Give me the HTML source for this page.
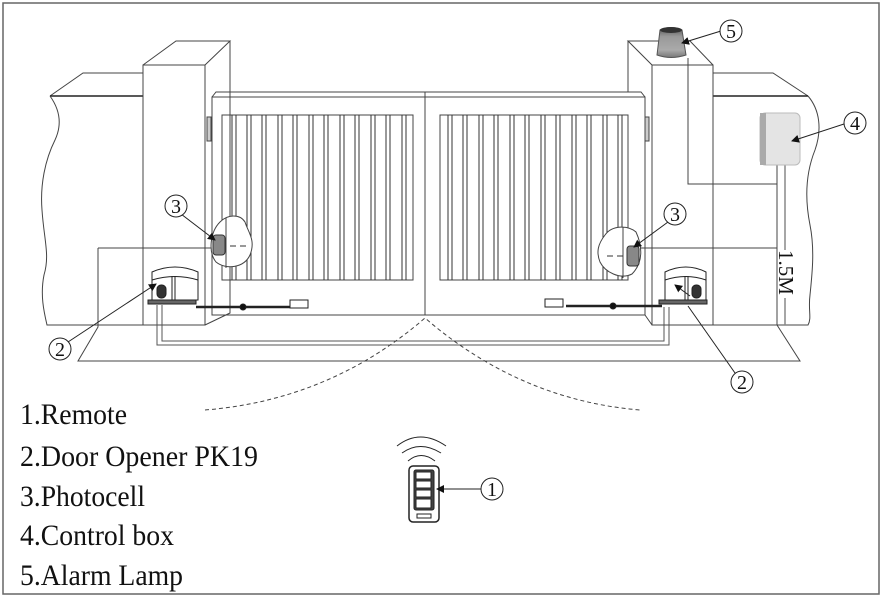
<!DOCTYPE html>
<html><head><meta charset="utf-8"><style>
html,body{margin:0;padding:0;background:#fff;width:883px;height:598px;overflow:hidden}
svg{display:block}
text{font-family:"Liberation Serif",serif;fill:#111}
</style></head><body>
<svg width="883" height="598" viewBox="0 0 883 598" xmlns="http://www.w3.org/2000/svg">
<defs>
<marker id="ar" markerWidth="8" markerHeight="8" refX="7" refY="4" orient="auto" markerUnits="userSpaceOnUse"><path d="M0,0 L8,4 L0,8 z" fill="#111"/></marker>
<linearGradient id="lg" x1="0" x2="0" y1="0" y2="1"><stop offset="0" stop-color="#555"/><stop offset="0.3" stop-color="#999"/><stop offset="0.75" stop-color="#aaa"/><stop offset="1" stop-color="#777"/></linearGradient>
</defs>
<rect x="3" y="3" width="876" height="591" fill="none" stroke="#666" stroke-width="1.5"/>
<g fill="none" stroke="#444" stroke-width="1">
<path d="M98,248 L98,327 L78,361 L800,361 L777,325"/>
<path d="M98,248 L212,248"/>
<path d="M640,248 L777,248"/>
<path d="M50,96 L83,73 L143,73"/>
<path d="M50,96 L143,96" stroke="#222" stroke-width="1.5"/>
<path d="M50,96 C60,110 62,125 55,140 C45,160 40,185 42,210 C44,240 50,255 44,275 C40,295 44,312 47,325 L143,325"/>
<rect x="143" y="65" width="62" height="260"/>
<path d="M143,65 L176,41 L230,41 L205,65 M230,41 L230,313 L205,325"/>
<path d="M713,73 L773,73 L808,96"/>
<path d="M713,96 L808,96" stroke="#222" stroke-width="1.5"/>
<path d="M808,96 C820,110 822,130 815,150 C805,175 805,200 810,225 C815,250 812,275 810,295 C808,310 812,318 808,325 L713,325"/>
<rect x="652" y="65" width="61" height="260"/>
<path d="M652,65 L628,41 L690,41 L713,65 M628,41 L628,92 M652,325 L645,315"/>
<path d="M688,58 L688,184 L777,184"/>
<path d="M777,165 L777,325" stroke="#444"/>
<path d="M785,165 L785,250 M785,298 L785,325" stroke="#888" stroke-width="1.5"/>
<path d="M212,97 L216,92 L425,92 M212,97 L425,97"/>
<rect x="212" y="97" width="213" height="218"/>
<rect x="222" y="115" width="191" height="165"/>
<path d="M425,92 L641,92 L645,97 M425,97 L645,97"/>
<rect x="425" y="97" width="220" height="218"/>
<rect x="440" y="115" width="188" height="165"/>
<path d="M425,92 L425,315"/>
<rect x="207" y="117" width="4" height="24" fill="#ccc"/>
<rect x="645" y="117" width="4" height="24" fill="#ccc"/>
</g>
<g fill="none" stroke="#333" stroke-width="1">
<path d="M232,115v165M236,115v165M247,115v165M251,115v165M262,115v165M266,115v165M278,115v165M282,115v165M293,115v165M297,115v165M309,115v165M313,115v165M324,115v165M328,115v165M340,115v165M344,115v165M355,115v165M359,115v165M371,115v165M375,115v165M386,115v165M390,115v165M402,115v165M406,115v165"/>
<path d="M448,115v165M452,115v165M463,115v165M467,115v165M479,115v165M483,115v165M494,115v165M498,115v165M510,115v165M514,115v165M525,115v165M529,115v165M541,115v165M545,115v165M556,115v165M560,115v165M572,115v165M576,115v165M587,115v165M591,115v165M603,115v165M607,115v165M618,115v165M622,115v165"/>
</g>
<path d="M220,222 C228,214 240,214 245,222 C248,232 256,240 250,255 C244,268 226,270 216,262 C208,252 210,232 220,222 Z" fill="#fff" stroke="#444"/>
<path d="M226,218 L226,268" stroke="#444"/>
<rect x="213" y="235" width="12" height="20" rx="3" fill="#888" stroke="#333"/>
<path d="M230,246 h6 M240,246 h6" stroke="#333"/>
<path d="M605,235 C612,225 628,225 636,232 C642,245 644,262 632,274 C620,280 605,272 600,262 C596,252 598,244 605,235 Z" fill="#fff" stroke="#444"/>
<path d="M623,227 L623,278" stroke="#444"/>
<rect x="627" y="246" width="12" height="20" rx="3" fill="#888" stroke="#333"/>
<path d="M607,256 h6 M617,256 h6" stroke="#333"/>
<g stroke="#222" fill="#fff">
<path d="M152,272 Q175,262 198,272 L198,300 L152,300 Z"/>
<path d="M152,280 Q175,273 198,280" fill="none"/>
<line x1="172" y1="276" x2="172" y2="300"/><line x1="175" y1="276" x2="175" y2="300"/>
<rect x="157" y="285" width="9" height="13" rx="4" fill="#333"/>
<rect x="148" y="300" width="48" height="4" fill="#666"/>
<path d="M196,307 L240,307 M246,307 L290,307" stroke-width="2.5"/>
<circle cx="243" cy="307" r="3" fill="#111"/>
<rect x="290" y="300" width="18" height="8" fill="#fff"/>
<path d="M665,272 Q686,262 706,272 L706,300 L665,300 Z"/>
<path d="M665,280 Q686,273 706,280" fill="none"/>
<line x1="685" y1="276" x2="685" y2="300"/><line x1="688" y1="276" x2="688" y2="300"/>
<rect x="692" y="285" width="9" height="13" rx="4" fill="#333"/>
<rect x="659" y="300" width="48" height="4" fill="#666"/>
<path d="M566,306 L610,306 M616,306 L662,306" stroke-width="2.5"/>
<circle cx="613" cy="306" r="3" fill="#111"/>
<rect x="545" y="299" width="18" height="8" fill="#fff"/>
</g>
<path d="M157,305 V345 H669 V307 M162,305 V341 H664 V307" fill="none" stroke="#555"/>
<path d="M205,410 Q330,400 425,318 Q520,400 640,410" fill="none" stroke="#444" stroke-dasharray="4,3"/>
<path d="M660,30 Q671,25 682,30 L686,55 Q671,60 657,55 Z" fill="url(#lg)" stroke="#555"/>
<ellipse cx="671" cy="30" rx="11" ry="3" fill="#333"/>
<rect x="760" y="113" width="40" height="52" rx="5" fill="#e4e4e4" stroke="#bbb"/>
<rect x="760" y="113" width="6" height="52" fill="#aaa"/>
<g fill="none" stroke="#222">
<path d="M397,446 Q420,428 446,446"/><path d="M402,453 Q420,440 441,453"/><path d="M408,461 Q421,450 435,461"/>
<rect x="409" y="466" width="30" height="56" rx="4" stroke-width="1.5"/>
<rect x="414" y="470" width="20" height="40" rx="2" fill="#444"/>
<rect x="416" y="472" width="15" height="7" fill="#fff"/><rect x="416" y="481" width="15" height="7" fill="#fff"/><rect x="416" y="490" width="15" height="7" fill="#fff"/><rect x="416" y="499" width="15" height="9" fill="#fff"/>
<rect x="417" y="514" width="14" height="4"/>
</g>
<g stroke="#222" fill="none" stroke-width="1">
<line x1="181" y1="214" x2="215" y2="240" marker-end="url(#ar)"/>
<line x1="668" y1="222" x2="634" y2="247" marker-end="url(#ar)"/>
<line x1="68" y1="342" x2="156" y2="284" marker-end="url(#ar)"/>
<line x1="735" y1="373" x2="688" y2="306"/>
<path d="M690,296 L675,285" marker-end="url(#ar)"/>
<line x1="721" y1="31" x2="682" y2="43" marker-end="url(#ar)"/>
<line x1="844" y1="124" x2="792" y2="141" marker-end="url(#ar)"/>
<line x1="482" y1="489" x2="437" y2="489" marker-end="url(#ar)"/>
</g>
<g fill="#fff" stroke="#222">
<circle cx="176" cy="206" r="11"/><circle cx="675" cy="214" r="11"/>
<circle cx="60" cy="349" r="11"/><circle cx="742" cy="382" r="11"/>
<circle cx="731" cy="31" r="11"/><circle cx="855" cy="123" r="11"/>
<circle cx="492" cy="489" r="11"/>
</g>
<g font-size="20" text-anchor="middle">
<text x="176" y="213">3</text><text x="675" y="221">3</text>
<text x="60" y="356">2</text><text x="742" y="389">2</text>
<text x="731" y="38">5</text><text x="855" y="130">4</text>
<text x="492" y="496">1</text>
</g>
<text x="0" y="0" font-size="21" transform="translate(779,250) rotate(90)">1.5M</text>
<g font-size="30">
<text x="20" y="424" textLength="107" lengthAdjust="spacingAndGlyphs">1.Remote</text>
<text x="20" y="466" textLength="238" lengthAdjust="spacingAndGlyphs">2.Door Opener PK19</text>
<text x="20" y="506" textLength="125" lengthAdjust="spacingAndGlyphs">3.Photocell</text>
<text x="20" y="545" textLength="154" lengthAdjust="spacingAndGlyphs">4.Control box</text>
<text x="20" y="585" textLength="163" lengthAdjust="spacingAndGlyphs">5.Alarm Lamp</text>
</g>
</svg>
</body></html>
